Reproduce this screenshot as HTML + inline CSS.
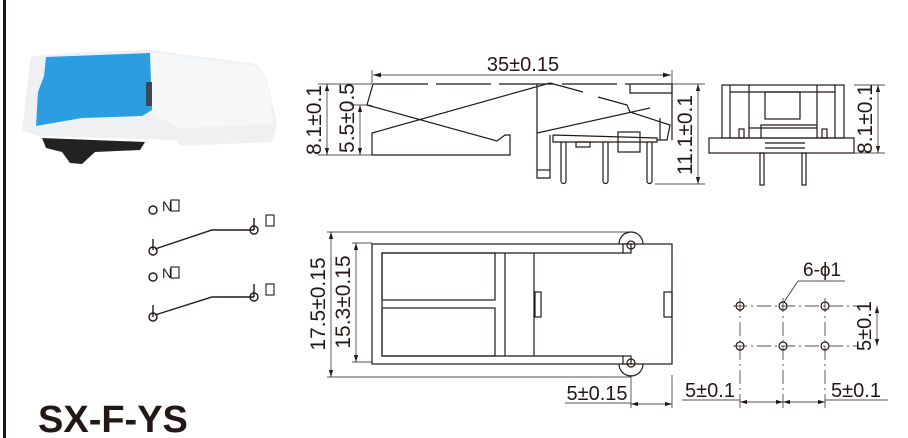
<!DOCTYPE html>
<html><head><meta charset="utf-8"><style>
html,body{margin:0;padding:0;background:#fff;}
svg{display:block;}
text{font-family:"Liberation Sans",sans-serif;fill:#231815;}
</style></head><body>
<svg width="908" height="438" viewBox="0 0 908 438" xmlns="http://www.w3.org/2000/svg">
<defs>
<marker id="a" viewBox="0 0 10 6" refX="10" refY="3" markerWidth="10" markerHeight="6" orient="auto-start-reverse"><path d="M0,0 L10,3 L0,6 z" fill="#231815"/></marker>
</defs>
<rect x="3" y="0" width="3" height="438" fill="#231815"/>

<!-- photo -->
<polygon points="32,56 85,52 150,50 256,64 266,76 277,125 272,142 180,146 176,140 40,136 22,131 30,62" fill="#eef0f2"/>
<polygon points="150,52 256,66 266,78 274,124 180,128 150,114" fill="#f6f7f8"/>
<polygon points="42,138 145,142 140,150 95,152 82,164 70,163 62,152 46,148" fill="#222"/>
<polygon points="46,57 150,53 152,110 142,116 82,118 36,126 38,92 44,76" fill="#2a9ee0"/>
<rect x="146" y="82" width="6" height="24" fill="#3a4a55"/>

<!-- switch symbols -->
<g stroke="#231815" stroke-width="1.4" fill="none">
<circle cx="153" cy="210" r="4"/>
<line x1="153" y1="239" x2="153" y2="250"/><circle cx="153" cy="251" r="4"/>
<polyline points="155,249 212,230 254,230"/><circle cx="254" cy="230" r="4"/><line x1="254" y1="218" x2="254" y2="230"/>
<circle cx="153" cy="277" r="4"/>
<line x1="153" y1="305" x2="153" y2="317"/><circle cx="153" cy="317" r="4"/>
<polyline points="155,315 212,297 254,297"/><circle cx="254" cy="297" r="4"/><line x1="254" y1="284" x2="254" y2="297"/>
<rect x="171" y="200" width="8" height="11" stroke-width="1.1"/>
<rect x="266" y="215" width="8" height="11" stroke-width="1.1"/>
<rect x="171" y="267" width="8" height="11" stroke-width="1.1"/>
<rect x="266" y="284" width="8" height="11" stroke-width="1.1"/>
</g>
<text x="162" y="211" font-size="14">N</text>
<text x="162" y="278" font-size="14">N</text>

<g stroke="#231815" stroke-width="1.2" fill="none">
<!-- side view -->
<line x1="373" y1="75" x2="671" y2="75" marker-start="url(#a)" marker-end="url(#a)" stroke-width="0.8"/>
<line x1="372" y1="70" x2="372" y2="84" stroke-width="0.7"/><line x1="672" y1="70" x2="672" y2="84" stroke-width="0.7"/>
<line x1="373" y1="84" x2="630" y2="84" stroke-dasharray="55,8"/>
<polyline points="373,84 367,105 372,106"/>
<polyline points="367,105 497,141 505,135 510,135 510,155 372,155 372,133 550,83 583,92"/>
<polyline points="598,97 627,105 630,112 670,125 667,140 657,140"/>
<polyline points="630,84 630,93 672,93 672,84 630,84"/>
<line x1="672" y1="84" x2="672" y2="140"/>
<polyline points="537,84 537,178 550,178 550,135"/>
<line x1="537" y1="170" x2="550" y2="170"/>
<line x1="537" y1="133" x2="650" y2="108"/>
<polyline points="553,135 657,138 657,142 553,142 553,135"/>
<rect x="618" y="132" width="22" height="20"/>
<rect x="576" y="142" width="14" height="5"/>
<path d="M561,142 V181 a2,2 0 0 0 5,0 V142"/>
<path d="M603,142 V181 a2,2 0 0 0 5,0 V142"/>
<path d="M647,142 V181 a2,2 0 0 0 5,0 V142"/>
<line x1="660" y1="118" x2="660" y2="140"/>
<g stroke-width="0.7">
<line x1="318" y1="84" x2="372" y2="84"/><line x1="318" y1="155" x2="372" y2="155"/>
<line x1="327" y1="84" x2="327" y2="155" marker-start="url(#a)" marker-end="url(#a)"/>
<line x1="350" y1="105" x2="367" y2="105"/>
<line x1="360" y1="105" x2="360" y2="155" marker-start="url(#a)" marker-end="url(#a)"/>
<line x1="655" y1="184" x2="705" y2="184"/><line x1="672" y1="84" x2="705" y2="84"/>
<line x1="698" y1="84" x2="698" y2="184" marker-start="url(#a)" marker-end="url(#a)"/>
</g>

<!-- front view -->
<rect x="722" y="85" width="122" height="53"/>
<rect x="709" y="138" width="145" height="15"/>
<line x1="730" y1="85" x2="730" y2="138"/><line x1="835" y1="85" x2="835" y2="138"/>
<line x1="749" y1="85" x2="749" y2="138"/><line x1="817" y1="85" x2="817" y2="138"/>
<line x1="730" y1="92" x2="835" y2="92"/>
<rect x="765" y="92" width="35" height="27"/>
<polyline points="749,128 817,128"/>
<polyline points="761,138 761,125 817,125"/>
<rect x="739" y="129" width="5" height="9"/>
<rect x="822" y="129" width="5" height="9"/>
<line x1="765" y1="143" x2="805" y2="143"/><line x1="765" y1="148" x2="805" y2="148"/>
<rect x="760" y="153" width="4" height="32"/>
<rect x="802" y="153" width="4" height="32"/>
<g stroke-width="0.7">
<line x1="854" y1="85" x2="885" y2="85"/><line x1="854" y1="153" x2="885" y2="153"/>
<line x1="878" y1="85" x2="878" y2="153" marker-start="url(#a)" marker-end="url(#a)"/>
</g>

<!-- top view -->
<path d="M619,244 a12,12 0 0 1 24,0 M619,364 a12,12 0 0 0 24,0"/>
<circle cx="631" cy="245" r="4"/><circle cx="631" cy="363" r="4"/>
<rect x="372" y="244" width="300" height="120"/>
<polyline points="623,253 382,253 382,356 623,356"/>
<rect x="623" y="244" width="8" height="9"/><rect x="623" y="356" width="8" height="8"/>
<rect x="382" y="253" width="113" height="47"/>
<rect x="382" y="308" width="113" height="48"/>
<line x1="505" y1="253" x2="505" y2="356"/><line x1="534" y1="253" x2="534" y2="356"/>
<rect x="535" y="292" width="6" height="25"/><rect x="664" y="292" width="8" height="25"/>
<g stroke-width="0.7">
<line x1="327" y1="232" x2="631" y2="232"/><line x1="327" y1="377" x2="631" y2="377"/>
<line x1="331" y1="232" x2="331" y2="377" marker-start="url(#a)" marker-end="url(#a)"/>
<line x1="352" y1="243" x2="372" y2="243"/><line x1="352" y1="362" x2="372" y2="362"/>
<line x1="356" y1="243" x2="356" y2="362" marker-start="url(#a)" marker-end="url(#a)"/>
<line x1="631" y1="375" x2="631" y2="408"/><line x1="672" y1="375" x2="672" y2="408"/>
<line x1="565" y1="403" x2="631" y2="403"/>
<line x1="631" y1="404" x2="672" y2="404" marker-start="url(#a)" marker-end="url(#a)"/>
</g>

<!-- hole pattern -->
<g stroke-width="0.7">
<line x1="733" y1="306" x2="857" y2="306" stroke-dasharray="14,4,2,4"/>
<line x1="733" y1="346" x2="857" y2="346" stroke-dasharray="14,4,2,4"/>
<line x1="740" y1="298" x2="740" y2="408" stroke-dasharray="14,4,2,4"/>
<line x1="783" y1="298" x2="783" y2="408" stroke-dasharray="14,4,2,4"/>
<line x1="825" y1="298" x2="825" y2="408" stroke-dasharray="14,4,2,4"/>
<line x1="798" y1="281" x2="845" y2="281"/><line x1="798" y1="281" x2="784" y2="302"/>
<line x1="877" y1="306" x2="877" y2="346" marker-start="url(#a)" marker-end="url(#a)"/>
<line x1="682" y1="400" x2="740" y2="400"/><line x1="825" y1="400" x2="888" y2="400"/>
<line x1="740" y1="402" x2="783" y2="402" marker-start="url(#a)" marker-end="url(#a)"/>
<line x1="783" y1="402" x2="825" y2="402" marker-start="url(#a)" marker-end="url(#a)"/>
</g>
<circle cx="740" cy="306" r="4"/><circle cx="783" cy="306" r="4"/><circle cx="825" cy="306" r="4"/>
<circle cx="740" cy="346" r="4"/><circle cx="783" cy="346" r="4"/><circle cx="825" cy="346" r="4"/>
</g>

<text x="523" y="71" font-size="20" text-anchor="middle">35±0.15</text>
<text transform="translate(321,120) rotate(-90)" font-size="21" text-anchor="middle">8.1±0.1</text>
<text transform="translate(354,118) rotate(-90)" font-size="21" text-anchor="middle">5.5±0.5</text>
<text transform="translate(692,135) rotate(-90)" font-size="21" text-anchor="middle">11.1±0.1</text>
<text transform="translate(872,119) rotate(-90)" font-size="21" text-anchor="middle">8.1±0.1</text>
<text transform="translate(325,304) rotate(-90)" font-size="21" text-anchor="middle">17.5±0.15</text>
<text transform="translate(350,302) rotate(-90)" font-size="21" text-anchor="middle">15.3±0.15</text>
<text x="597" y="400" font-size="20" text-anchor="middle">5±0.15</text>
<text x="822" y="276" font-size="19" text-anchor="middle">6-ϕ1</text>
<text transform="translate(871,326) rotate(-90)" font-size="20" text-anchor="middle">5±0.1</text>
<text x="710" y="397" font-size="20" text-anchor="middle">5±0.1</text>
<text x="856" y="397" font-size="20" text-anchor="middle">5±0.1</text>
<text x="38" y="432" font-size="38" font-weight="bold">SX-F-YS</text>
</svg>
</body></html>
